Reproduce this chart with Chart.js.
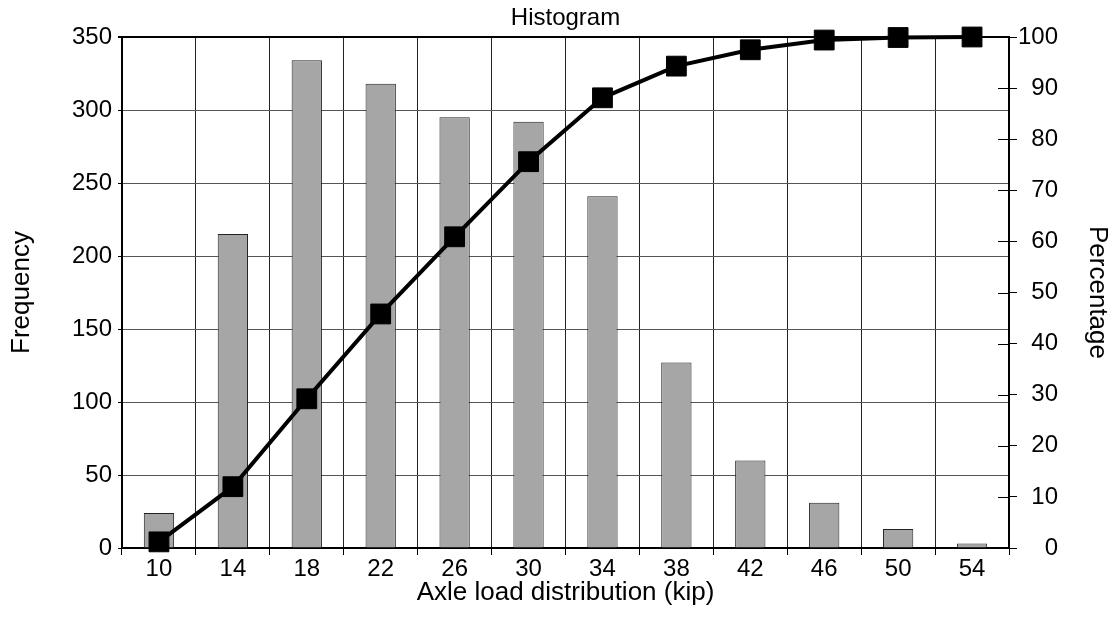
<!DOCTYPE html>
<html>
<head>
<meta charset="utf-8">
<script src="https://cdn.jsdelivr.net/npm/chart.js@4"></script>
<style>
  html, body { margin: 0; padding: 0; background: #fff; }
  #histogram-chart { display: block; width: 1115px; height: 625px; }
</style>
</head>
<body>
<canvas id="histogram-chart" width="1115" height="625"></canvas>
<script>
window.addEventListener("DOMContentLoaded", () => {

  // axle load bins (kip)
  const loads = ["10", "14", "18", "22", "26", "30", "34", "38", "42", "46", "50", "54"];
  // bar heights, left axis
  const frequency = [24, 215, 334, 318, 295, 292, 241, 127, 60, 31, 13, 3];
  // cumulative line, right axis
  const percentage = [1.2, 12.0, 29.2, 45.8, 60.9, 75.6, 88.1, 94.3, 97.5, 99.4, 99.9, 100];

  const freqTicks = [0, 50, 100, 150, 200, 250, 300, 350];
  const pctTicks = [0, 10, 20, 30, 40, 50, 60, 70, 80, 90, 100];

  const fontFamily = "'Liberation Sans', Arial, sans-serif";

  // right axis: ticks poke into the plot, title sits right of the labels
  const rightAxisExtras = {
    id: "rightAxisExtras",
    beforeDatasetsDraw(chart) {
      const s = chart.scales.y1;
      const ctx = chart.ctx;
      const r = chart.chartArea.right;
      ctx.save();
      ctx.strokeStyle = "#000";
      ctx.lineWidth = 1;
      s.ticks.forEach((t, i) => {
        const y = Math.round(s.getPixelForTick(i)) + 0.5;
        ctx.beginPath();
        ctx.moveTo(r - 11, y);
        ctx.lineTo(r, y);
        ctx.stroke();
      });
      ctx.restore();
    },
    afterDraw(chart) {
      const ctx = chart.ctx;
      const a = chart.chartArea;
      ctx.save();
      ctx.translate(1097, (a.top + a.bottom) / 2);
      ctx.rotate(Math.PI / 2);
      ctx.fillStyle = "#000";
      ctx.font = "26px " + fontFamily;
      ctx.textAlign = "center";
      ctx.textBaseline = "middle";
      ctx.fillText("Percentage", 0, 0);
      ctx.restore();
    }
  };

  new Chart(document.getElementById("histogram-chart"), {
    type: "bar",
    data: {
      labels: loads,
      datasets: [
        {
          type: "line",
          label: "Percentage",
          data: percentage,
          yAxisID: "y1",
          borderColor: "#000",
          borderWidth: 4,
          pointStyle: "rect",
          pointRadius: 14,
          pointBackgroundColor: "#000",
          pointBorderColor: "#000",
          pointBorderWidth: 1,
          tension: 0,
          clip: false,
          order: 0
        },
        {
          label: "Frequency",
          data: frequency,
          yAxisID: "y",
          backgroundColor: "#a6a6a6",
          borderColor: "#222",
          borderWidth: 1,
          barPercentage: 0.41,
          categoryPercentage: 1,
          order: 1
        }
      ]
    },
    options: {
      responsive: false,
      animation: false,
      layout: { padding: { left: 0, right: 57, top: 0, bottom: 0 } },
      plugins: {
        legend: { display: false },
        tooltip: { enabled: false },
        title: {
          display: true,
          text: "Histogram",
          fullSize: false,
          color: "#000",
          font: { family: fontFamily, size: 24, weight: "normal", lineHeight: 1 },
          padding: { top: 6, bottom: 7 }
        }
      },
      scales: {
        x: {
          grid: { color: "#222", lineWidth: 1, tickLength: 7, tickColor: "#000" },
          border: { color: "#000", width: 2 },
          ticks: { color: "#000", padding: 0, font: { family: fontFamily, size: 24 } },
          title: {
            display: true,
            text: "Axle load distribution (kip)",
            color: "#000",
            font: { family: fontFamily, size: 26 },
            padding: { top: 0, bottom: 17 }
          },
          afterFit: s => { s.height = 77; }
        },
        y: {
          position: "left",
          min: 0,
          max: 350,
          afterBuildTicks: s => { s.ticks = freqTicks.map(v => ({ value: v })); },
          grid: {
            color: ctx => (ctx.tick && ctx.tick.value === 350 ? "#000" : "#555"),
            lineWidth: ctx => (ctx.tick && ctx.tick.value === 350 ? 2 : 1),
            tickLength: 4,
            tickColor: "#000"
          },
          border: { color: "#000", width: 2 },
          ticks: { color: "#000", padding: 6, font: { family: fontFamily, size: 24 } },
          title: {
            display: true,
            text: "Frequency",
            color: "#000",
            font: { family: fontFamily, size: 26 },
            padding: { top: 6, bottom: 0 }
          },
          afterFit: s => { s.width = 122; }
        },
        y1: {
          position: "right",
          min: 0,
          max: 100,
          afterBuildTicks: s => { s.ticks = pctTicks.map(v => ({ value: v })); },
          grid: { drawOnChartArea: false, tickLength: 8, tickColor: "#000" },
          border: { color: "#000", width: 2 },
          ticks: {
            color: "#000",
            padding: 4,
            crossAlign: "far",
            font: { family: fontFamily, size: 24 }
          },
          afterFit: s => { s.width = 49; }
        }
      }
    },
    plugins: [rightAxisExtras]
  });

});
</script>
</body>
</html>
